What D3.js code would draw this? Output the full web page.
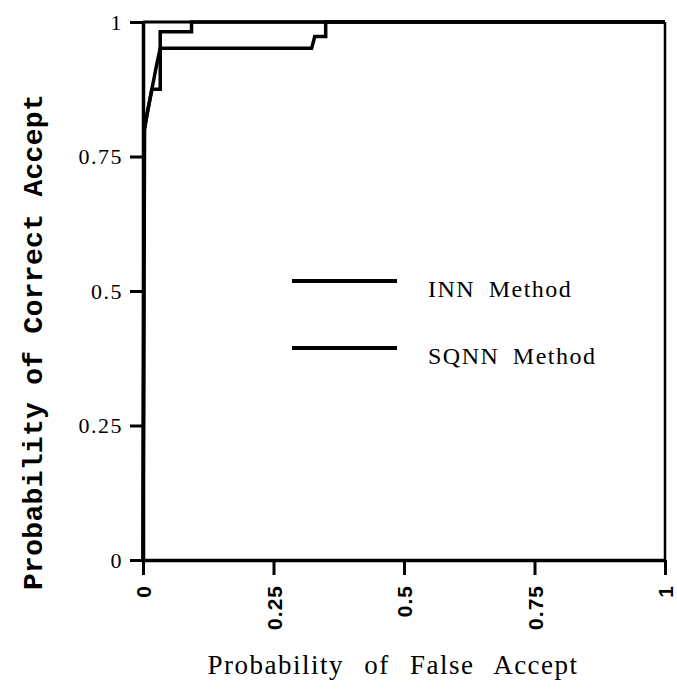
<!DOCTYPE html>
<html>
<head>
<meta charset="utf-8">
<script src="https://cdn.jsdelivr.net/npm/d3@7"></script>
<style>
  html, body { margin: 0; padding: 0; background: #fff; }
  svg { display: block; }
</style>
</head>
<body>
<svg id="chart" width="677" height="696"></svg>
<script>
// ROC curves: probability of false accept (x) vs probability of correct accept (y)
const innFalseAccept   = [0, 0.002, 0.017, 0.033, 0.033, 0.093, 0.093, 1];
const innCorrectAccept = [0, 0.800, 0.875, 0.875, 0.982, 0.982, 1.000, 1];

const sqnnFalseAccept   = [0, 0.003, 0.008, 0.026, 0.033, 0.323, 0.329, 0.350, 0.350, 1];
const sqnnCorrectAccept = [0, 0.800, 0.830, 0.920, 0.951, 0.951, 0.973, 0.973, 1.000, 1];

const tickValues = [0, 0.25, 0.5, 0.75, 1];
const tickLabels = ["0", "0.25", "0.5", "0.75", "1"];
const legendLabels = ["INN Method", "SQNN Method"];

const svg = d3.select("#chart");
const plotLeft = 143, plotRight = 665, plotTop = 22, plotBottom = 560;

const x = d3.scaleLinear().domain([0, 1]).range([plotLeft, plotRight]);
const y = d3.scaleLinear().domain([0, 1]).range([plotBottom, plotTop]);

// frame: top and right edges
svg.append("line").attr("x1", plotLeft).attr("x2", plotRight).attr("y1", plotTop).attr("y2", plotTop)
  .attr("stroke", "#000").attr("stroke-width", 3);
svg.append("line").attr("x1", plotRight).attr("x2", plotRight).attr("y1", plotTop).attr("y2", plotBottom)
  .attr("stroke", "#000").attr("stroke-width", 2.5);

// left axis
const yAxis = svg.append("g")
  .attr("transform", `translate(${plotLeft},0)`)
  .call(d3.axisLeft(y).tickValues(tickValues)
    .tickFormat((d, i) => tickLabels[i]).tickSize(13).tickSizeOuter(0).tickPadding(7));
yAxis.select(".domain").attr("stroke", "#000").attr("stroke-width", 3.5);
yAxis.selectAll(".tick line").attr("stroke", "#000").attr("stroke-width", 3);
yAxis.selectAll(".tick text")
  .attr("font-family", "'Liberation Serif', 'DejaVu Serif', serif")
  .attr("font-size", 22)
  .attr("letter-spacing", "1.5px")
  .attr("fill", "#000");

// bottom axis
const xAxis = svg.append("g")
  .attr("transform", `translate(0,${plotBottom})`)
  .call(d3.axisBottom(x).tickValues(tickValues)
    .tickFormat((d, i) => tickLabels[i]).tickSize(15).tickSizeOuter(0).tickPadding(0));
xAxis.select(".domain").attr("stroke", "#000").attr("stroke-width", 3.5);
xAxis.selectAll(".tick line").attr("stroke", "#000").attr("stroke-width", 3);
xAxis.selectAll(".tick text")
  .attr("font-family", "'Liberation Sans', Arial, sans-serif")
  .attr("font-weight", "bold")
  .attr("font-size", 21)
  .attr("letter-spacing", "1px")
  .attr("fill", "#000")
  .attr("text-anchor", "end")
  .attr("transform", "rotate(-90)")
  .attr("x", -25)
  .attr("y", 0)
  .attr("dy", "0.36em");

// curves
const line = d3.line().x(d => x(d[0])).y(d => y(d[1]));
const innPts = innFalseAccept.map((v, i) => [v, innCorrectAccept[i]]);
const sqnnPts = sqnnFalseAccept.map((v, i) => [v, sqnnCorrectAccept[i]]);
[innPts, sqnnPts].forEach(pts => {
  svg.append("path").datum(pts)
    .attr("d", line)
    .attr("fill", "none")
    .attr("stroke", "#000")
    .attr("stroke-width", 3.5)
    .attr("stroke-linejoin", "miter");
});

// legend
const legendY = [281, 348];
legendLabels.forEach((lab, i) => {
  svg.append("line")
    .attr("x1", 292).attr("x2", 397)
    .attr("y1", legendY[i]).attr("y2", legendY[i])
    .attr("stroke", "#000").attr("stroke-width", 4);
  svg.append("text")
    .attr("x", 428).attr("y", legendY[i] + 16)
    .attr("font-family", "'Liberation Serif', 'DejaVu Serif', serif")
    .attr("font-size", 24)
    .attr("letter-spacing", "1.5px")
    .attr("word-spacing", "6px")
    .attr("fill", "#000")
    .text(lab);
});

// axis titles
svg.append("text")
  .attr("x", 393).attr("y", 674)
  .attr("text-anchor", "middle")
  .attr("font-family", "'Liberation Serif', 'DejaVu Serif', serif")
  .attr("font-size", 27)
  .attr("letter-spacing", "1.5px")
  .attr("word-spacing", "12px")
  .attr("fill", "#000")
  .text("Probability of False Accept");

svg.append("text")
  .attr("transform", "translate(42,342) rotate(-90)")
  .attr("text-anchor", "middle")
  .attr("font-family", "'Liberation Mono', 'DejaVu Sans Mono', monospace")
  .attr("font-weight", "bold")
  .attr("font-size", 28)
  .attr("letter-spacing", "0.3px")
  .attr("fill", "#000")
  .text("Probability of Correct Accept");
</script>
</body>
</html>
